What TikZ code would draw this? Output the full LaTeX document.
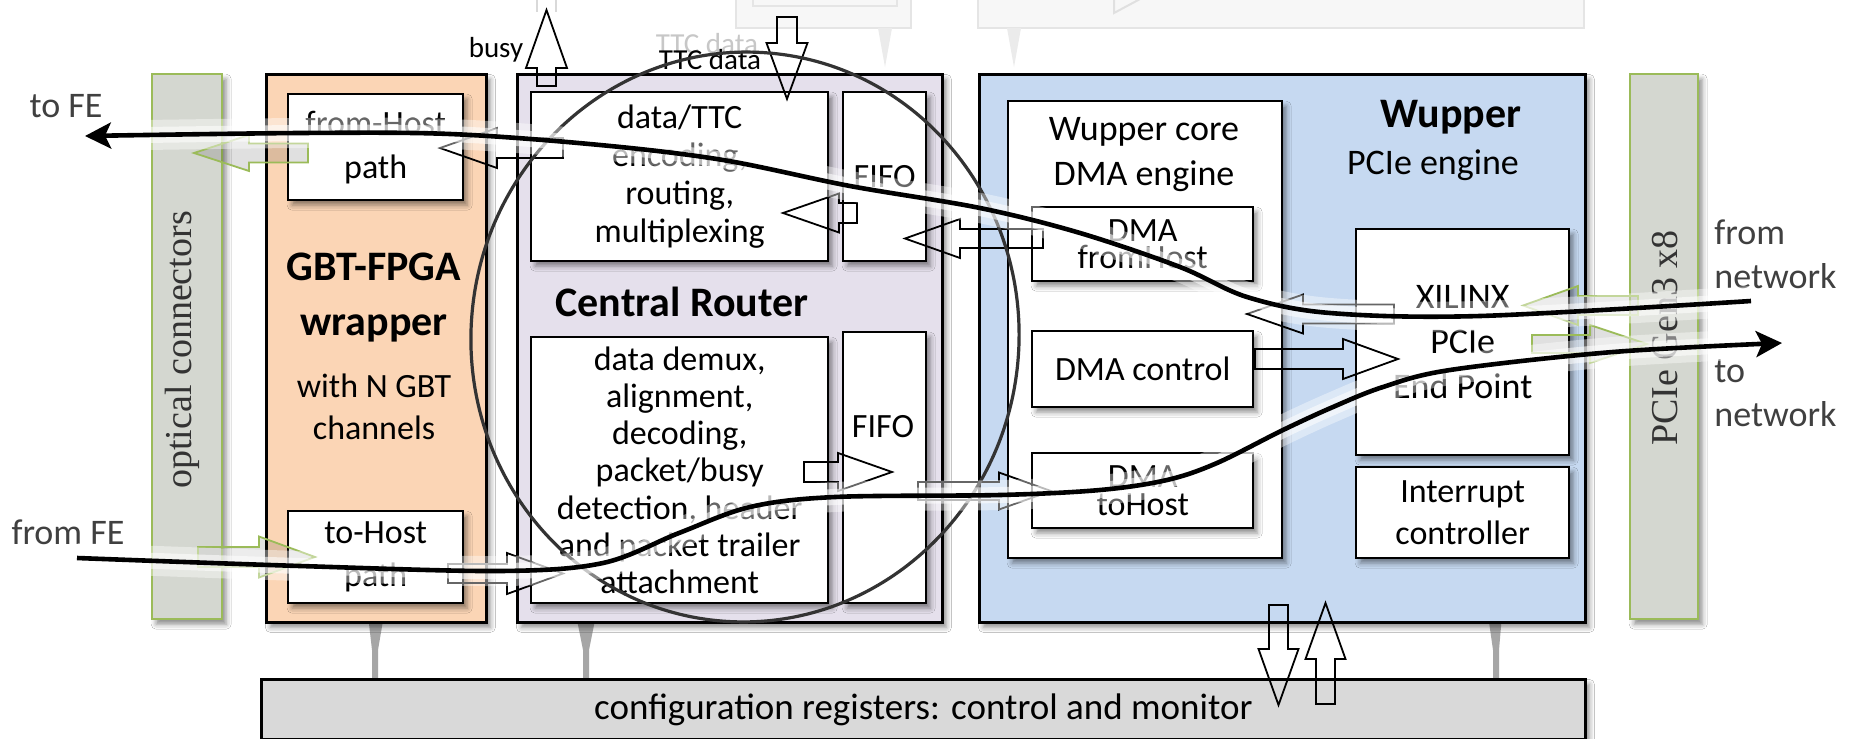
\documentclass[tikz,border=0pt]{standalone}
\usepackage{fontspec}
\setmainfont{Carlito}
\newfontfamily\barfont{Liberation Serif}
\usetikzlibrary{arrows.meta,shadows.blur}

\definecolor{barfill}{HTML}{D4D7D0}
\definecolor{bargreen}{HTML}{9BBB59}
\definecolor{gbtfill}{HTML}{FBD5B5}
\definecolor{crfill}{HTML}{E5E0EC}
\definecolor{wupfill}{HTML}{C6D9F1}
\definecolor{cfgfill}{HTML}{D9D9D9}
\definecolor{tiegray}{HTML}{A6A6A6}
\definecolor{labelgray}{HTML}{404040}
\definecolor{ringgray}{HTML}{333333}

% horizontal block arrow: [style]{tail x}{head base x}{tip x}{y}{shaft half}{head half}
\newcommand\hblockarrow[7][]{\draw[#1] ({#2},{#5-#6}) -- ({#3},{#5-#6}) -- ({#3},{#5-#7}) -- ({#4},{#5}) -- ({#3},{#5+#7}) -- ({#3},{#5+#6}) -- ({#2},{#5+#6}) -- cycle;}
% vertical block arrow: [style]{tail y}{head base y}{tip y}{x}{shaft half}{head half}
\newcommand\vblockarrow[7][]{\draw[#1] ({#5-#6},{#2}) -- ({#5-#6},{#3}) -- ({#5-#7},{#3}) -- ({#5},{#4}) -- ({#5+#7},{#3}) -- ({#5+#6},{#3}) -- ({#5+#6},{#2}) -- cycle;}

\tikzset{
  panel/.style={anchor=north west, draw=black, line width=1.4pt, inner sep=0pt,
    blur shadow={shadow xshift=2pt, shadow yshift=-2.5pt, shadow blur radius=2.5pt, shadow opacity=45}},
  cell/.style={panel, fill=white, line width=1.2pt, align=center,
    font=\fontsize{17pt}{19pt}\selectfont},
  title/.style={font=\bfseries\fontsize{21pt}{27.5pt}\selectfont, align=center, inner sep=0pt},
  plain/.style={font=\fontsize{17pt}{21pt}\selectfont, align=center, inner sep=0pt},
  lbl/.style={font=\fontsize{18pt}{22pt}\selectfont, text=labelgray, inner sep=0pt},
  small/.style={font=\fontsize{14.5pt}{15pt}\selectfont, inner sep=0pt},
  bartext/.style={rotate=90, font=\barfont\fontsize{19pt}{19pt}\selectfont, text=black!80, inner sep=0pt},
  blk/.style={draw=black, line width=0.9pt, line join=miter},
  grnarrow/.style={draw=bargreen, line width=0.9pt, fill=black, fill opacity=0.12},
  tie/.style={fill=tiegray},
  faint/.style={draw=black!10, fill=black!3, line width=1pt},
  ring/.style={draw=ringgray, line width=1.6pt},
  flow/.style={draw=black, line width=2.3pt, -{Stealth[length=13pt, width=13pt, inset=3pt]},
    preaction={draw=white, line width=15pt, draw opacity=0.4, arrows=-},
    preaction={draw=white, line width=8pt, draw opacity=0.55, arrows=-}},
}

\begin{document}
\begin{tikzpicture}[x=0.5pt, y=-0.5pt]
\useasboundingbox (0,0) rectangle (1853,739);
\fill[white] (0,0) rectangle (1853,739);

% upper blocks, cut off at the top edge
\draw[faint] (736,-8) rectangle (911,28);
\draw[faint] (753,-8) rectangle (897,6);
\draw[faint] (978,-8) rectangle (1584,28);
\draw[draw=black!12, line width=1pt] (1114,-2) -- (1114,13) -- (1142,-2);
\fill[black!8] (878,28) -- (892,28) -- (885,67) -- cycle;
\fill[black!8] (1007,28) -- (1021,28) -- (1014,67) -- cycle;
\draw[black!15, line width=0.8pt] (537,0) -- (537,12) (556,0) -- (556,12);

% links to the configuration registers
\fill[tie] (368,615) -- (384,615) -- (378,650) -- (378,680) -- (372,680) -- (372,650) -- cycle;
\fill[tie] (576,615) -- (596,615) -- (589,650) -- (589,680) -- (583,680) -- (583,650) -- cycle;
\fill[tie] (1488,615) -- (1502,615) -- (1499,650) -- (1499,680) -- (1493,680) -- (1493,650) -- cycle;

% main blocks
\node[panel, fill=barfill, draw=bargreen, line width=1.2pt, minimum width=35pt, minimum height=272.5pt] (optbar) at (151,73) {};
\node[panel, fill=gbtfill, minimum width=110pt, minimum height=274pt] (gbt) at (265,73) {};
\node[panel, fill=crfill, minimum width=212.5pt, minimum height=274pt] (cr) at (516,73) {};
\node[panel, fill=wupfill, minimum width=303pt, minimum height=274pt] (wup) at (978,73) {};
\node[panel, fill=barfill, draw=bargreen, line width=1.2pt, minimum width=34pt, minimum height=272.5pt] (pcibar) at (1629,73) {};
\node[panel, fill=cfgfill, minimum width=662pt, minimum height=30pt, font=\fontsize{18.5pt}{20pt}\selectfont] (cfg) at (260,678) {configuration registers: control and monitor};

% bar labels
\node[bartext] (optlabel) at (182,350) {optical connectors};
\node[bartext] (pcilabel) at (1665,338) {PCIe Gen3 x8};

% GBT-FPGA wrapper
\node[cell, minimum width=87.5pt, minimum height=53pt, font=\fontsize{17pt}{22pt}\selectfont] (fromhost) at (287,93) {from-Host\\path};
\node[cell, minimum width=87.5pt, minimum height=46pt, font=\fontsize{17pt}{21.5pt}\selectfont] (tohost) at (287,510) {to-Host\\path};
\node[title] (gbttitle) at (374,298) {GBT-FPGA\\wrapper};
\node[plain] (gbtsub) at (374,407) {with N GBT\\channels};

% Central Router
\node[cell, minimum width=148.5pt, minimum height=84.5pt] (enc) at (530,91) {data/TTC\\encoding,\\routing,\\multiplexing};
\node[cell, minimum width=41.5pt, minimum height=84.5pt] (fifoA) at (842,91) {FIFO};
\node[cell, minimum width=148.5pt, minimum height=133pt, font=\fontsize{17pt}{18.6pt}\selectfont] (demux) at (530,336) {data demux,\\alignment,\\decoding,\\packet/busy\\detection, header\\and packet trailer\\attachment};
\node[cell, minimum width=41.5pt, minimum height=135.5pt] (fifoB) at (842,331) {};
\node[plain] (fifoBtext) at (883,427) {FIFO};
\node[title] (crtitle) at (682,302) {Central Router};

% Wupper
\node[cell, minimum width=137pt, minimum height=228.5pt] (core) at (1007,100) {};
\node[plain, font=\fontsize{18pt}{22.5pt}\selectfont] (coretitle) at (1144,155) {Wupper core\\DMA engine};
\node[cell, minimum width=110.5pt, minimum height=37pt, font=\fontsize{17pt}{13.5pt}\selectfont] (dmafrom) at (1031,206) {DMA\\fromHost};
\node[cell, minimum width=110.5pt, minimum height=38pt] (dmactrl) at (1031,330) {DMA control};
\node[cell, minimum width=110.5pt, minimum height=37.5pt, font=\fontsize{17pt}{14pt}\selectfont] (dmato) at (1031,452) {DMA\\toHost};
\node[title] (wuptitle) at (1451,117) {Wupper};
\node[plain, font=\fontsize{18pt}{20pt}\selectfont] (wupsub) at (1433,165) {PCIe engine};
\node[cell, minimum width=106.5pt, minimum height=113pt, font=\fontsize{18pt}{22.5pt}\selectfont] (xil) at (1355,228) {XILINX\\PCIe\\End Point};
\node[cell, minimum width=106.5pt, minimum height=45.5pt, font=\fontsize{17pt}{21pt}\selectfont] (intr) at (1355,466) {Interrupt\\controller};

% outside labels
\node[lbl] (tofe) at (66,106) {to FE};
\node[lbl] (fromfe) at (68,532) {from FE};
\node[lbl, anchor=west, align=left] (fromnet) at (1714,254) {from\\network};
\node[lbl, anchor=west, align=left] (tonet) at (1714,393) {to\\network};
\node[small] (busy) at (496,50) {busy};
\node[small, text=black!22] (ttcghost) at (707,44) {TTC data};
\node[small] (ttc) at (710,60) {TTC data};

% block arrows
\vblockarrow[blk]{86}{68}{10}{546.5}{9.5}{20.5}
\vblockarrow[blk]{17}{43}{99}{787}{10}{20.5}
\hblockarrow[blk]{563}{497}{440}{148}{10}{20}
\hblockarrow[grnarrow]{308}{249}{194}{153}{9.5}{18}
\hblockarrow[grnarrow]{198}{259}{315}{557}{10}{20.5}
\hblockarrow[blk]{448}{507}{563}{573.5}{9.5}{20.5}
\hblockarrow[blk]{857}{839}{783}{213}{10}{19.5}
\hblockarrow[blk]{1043}{960}{905}{238.5}{9.5}{19.5}
\hblockarrow[blk]{804}{838}{892}{472}{10}{19}
\hblockarrow[blk]{918}{999}{1051}{491}{9}{18.5}
\hblockarrow[blk]{1255}{1343}{1398}{359}{10}{20}
\hblockarrow[blk]{1394}{1303}{1247}{314}{9.5}{19.5}
\hblockarrow[grnarrow]{1638}{1578}{1523}{305.5}{9.5}{19.5}
\hblockarrow[grnarrow]{1532}{1590}{1647}{344}{9}{19}
\vblockarrow[blk]{605}{649}{705}{1278.5}{9.5}{20}
\vblockarrow[blk]{704}{659}{603}{1325.5}{9.5}{20}

% ring around the Central Router
\draw[ring, rotate around={-5:(745,337)}] (745,337) ellipse [x radius=274, y radius=285];

% data flows
\coordinate (netin) at (1751,301);
\coordinate (feout) at (85,136);
\coordinate (fein) at (77,558);
\coordinate (netout) at (1782,343);
\draw[flow] plot[smooth, tension=0.55] coordinates {(netin) (1480,316) (1330,313) (1247,297) (1180,267) (1080,233) (980,208) (850,186) (723,160) (600,145) (450,134) (300,133) (feout)};
\draw[flow] plot[smooth, tension=0.55] coordinates {(fein) (300,566) (500,571) (603,563) (679,533) (750,507) (835,497) (1000,495) (1100,490) (1167,480) (1217,463) (1283,430) (1333,407) (1383,387) (1450,370) (1613,352) (netout)};
\end{tikzpicture}
\end{document}
